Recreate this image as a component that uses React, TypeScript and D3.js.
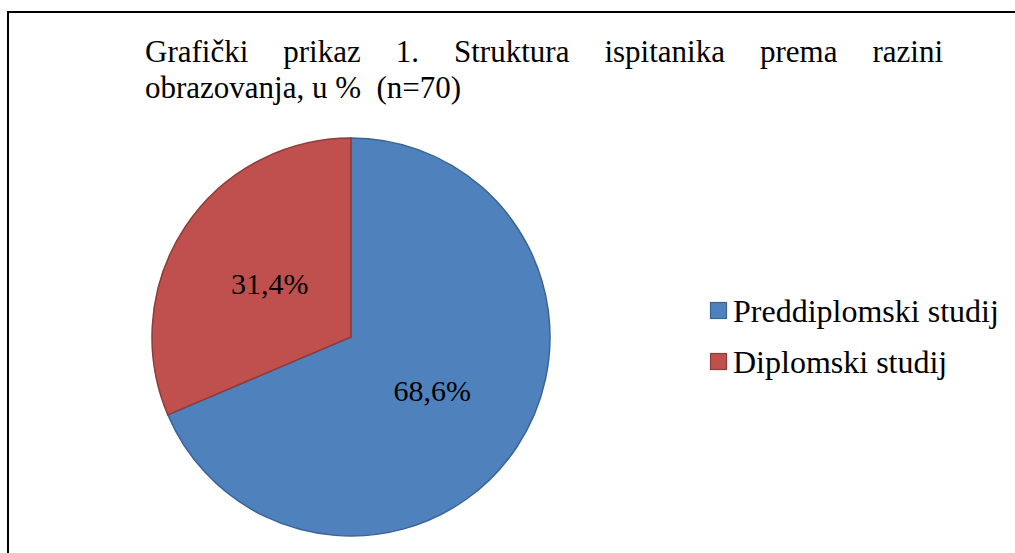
import * as d3 from 'd3'
import { useEffect, useRef } from 'react'

const categories = ['Preddiplomski studij', 'Diplomski studij']
const values = [68.6, 31.4]
const labels = ['68,6%', '31,4%']
const colors = ['#4F81BD', '#C0504D']
const strokes = ['#3A6496', '#8E3B39']
const titleLine1 = ['Grafički', 'prikaz', '1.', 'Struktura', 'ispitanika', 'prema', 'razini']
const titleLine2 = 'obrazovanja, u % (n=70)'

export default function App() {
	const svgRef = useRef<SVGSVGElement>(null)

	useEffect(() => {
		const svg = d3.select(svgRef.current)
		svg.selectAll('*').remove()
		const font = "'Liberation Serif', 'Times New Roman', 'DejaVu Serif', serif"

		// frame (only top and left edges visible)
		svg
			.append('rect')
			.attr('x', 8)
			.attr('y', 12)
			.attr('width', 1100)
			.attr('height', 700)
			.attr('fill', 'none')
			.attr('stroke', '#000')
			.attr('stroke-width', 2)

		// justified title, line 1
		const left = 145
		const right = 943
		const words = svg
			.append('g')
			.selectAll('text')
			.data(titleLine1)
			.join('text')
			.attr('y', 62)
			.style('font-family', font)
			.style('font-size', '31px')
			.attr('fill', '#000')
			.text((d) => d)
		const widths: number[] = []
		words.each(function () {
			widths.push((this as SVGTextElement).getComputedTextLength())
		})
		const total = d3.sum(widths)
		const gap = (right - left - total) / (titleLine1.length - 1)
		let cx = left
		words.attr('x', (_d, i) => {
			const x = cx
			cx += widths[i] + gap
			return x
		})

		svg
			.append('text')
			.attr('x', left)
			.attr('y', 98)
			.style('font-family', font)
			.style('font-size', '31px')
			.style('white-space', 'pre')
			.attr('fill', '#000')
			.text(titleLine2.replace('% ', '%  '))

		// pie
		const cxP = 351
		const cyP = 337
		const r = 199
		const pie = d3
			.pie<number>()
			.sort(null)
			.value((d) => d)
		const arcs = pie(values)
		const arc = d3.arc<d3.PieArcDatum<number>>().innerRadius(0).outerRadius(r)
		const labelArc = d3
			.arc<d3.PieArcDatum<number>>()
			.innerRadius(r * 0.49)
			.outerRadius(r * 0.49)

		const g = svg.append('g').attr('transform', `translate(${cxP},${cyP})`)
		g.selectAll('path')
			.data(arcs)
			.join('path')
			.attr('d', arc)
			.attr('fill', (_d, i) => colors[i])
			.attr('stroke', (_d, i) => strokes[i])
			.attr('stroke-width', 1.5)

		g.selectAll('text')
			.data(arcs)
			.join('text')
			.attr('transform', (d) => {
				const [x, y] = labelArc.centroid(d)
				return `translate(${x},${y})`
			})
			.attr('text-anchor', 'middle')
			.attr('dominant-baseline', 'central')
			.style('font-family', font)
			.style('font-size', '30px')
			.attr('fill', '#000')
			.text((_d, i) => labels[i])

		// legend
		const legend = svg
			.append('g')
			.selectAll('g')
			.data(categories)
			.join('g')
			.attr('transform', (_d, i) => `translate(710,${302 + i * 51})`)
		legend
			.append('rect')
			.attr('x', 0.5)
			.attr('y', 0.5)
			.attr('width', 16)
			.attr('height', 16)
			.attr('fill', (_d, i) => colors[i])
			.attr('stroke', (_d, i) => strokes[i])
			.attr('stroke-width', 1.2)
		legend
			.append('text')
			.attr('x', 23)
			.attr('y', 20)
			.style('font-family', font)
			.style('font-size', '32px')
			.attr('fill', '#000')
			.text((d) => d)
	}, [])

	return (
		<svg
			ref={svgRef}
			width={1015}
			height={553}
			style={{ position: 'absolute', left: 0, top: 0, background: '#fff' }}
		/>
	)
}
